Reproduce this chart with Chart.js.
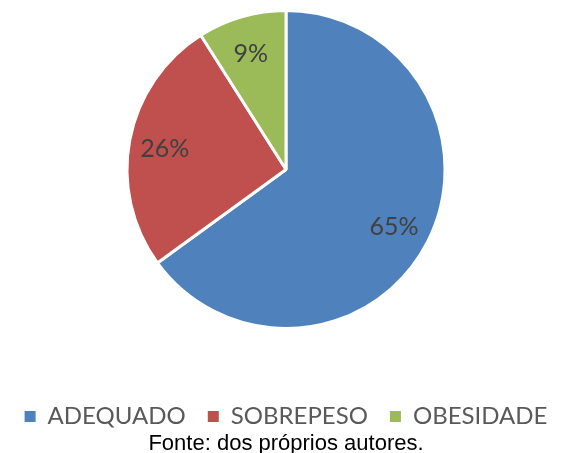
<!DOCTYPE html>
<html>
<head>
<meta charset="utf-8">
<script src="https://cdn.jsdelivr.net/npm/chart.js@4"></script>
<style>
  html, body { margin: 0; padding: 0; background: #fff; }
  #wrap { width: 575px; height: 453px; }
</style>
</head>
<body>
<div id="wrap"><canvas id="chart"></canvas></div>
<script>
// valeurs
var categories = ['ADEQUADO', 'SOBREPESO', 'OBESIDADE'];
var percents = [65, 26, 9];
var colors = ['#4F81BD', '#C0504D', '#9BBB59'];
var caption = 'Fonte: dos próprios autores.';

// étiquettes % dans les parts
var sliceLabels = {
  id: 'sliceLabels',
  afterDatasetsDraw: function(chart) {
    var ctx = chart.ctx;
    var meta = chart.getDatasetMeta(0);
    ctx.save();
    ctx.font = '25px Lato';
    ctx.fillStyle = '#404040';
    ctx.textAlign = 'center';
    ctx.textBaseline = 'middle';
    meta.data.forEach(function(arc, i) {
      var p = arc.getProps(['x', 'y', 'startAngle', 'endAngle', 'outerRadius'], true);
      var mid = (p.startAngle + p.endAngle) / 2;
      var r = p.outerRadius * 0.77;
      ctx.fillText(percents[i] + '%', p.x + Math.cos(mid) * r - 1, p.y + Math.sin(mid) * r + 2);
    });
    ctx.restore();
  }
};

var ctx = document.getElementById('chart').getContext('2d');
var myPie = new Chart(ctx, {
  type: 'pie',
  data: {
    labels: categories,
    datasets: [{
      data: percents,
      backgroundColor: colors,
      borderColor: '#ffffff',
      borderWidth: 3,
      radius: 159
    }]
  },
  options: {
    responsive: true,
    maintainAspectRatio: false,
    animation: false,
    layout: { padding: { right: 3 } },
    plugins: {
      tooltip: { enabled: false },
      legend: {
        position: 'bottom',
        maxHeight: 91.6,
        title: { display: true, text: '', font: { size: 12 }, padding: { top: 0, bottom: 29 } },
        labels: {
          boxWidth: 11,
          boxHeight: 11,
          padding: 22,
          color: '#595959',
          font: { family: 'Lato', size: 24 },
          // carrés pleins, sans le bord blanc des parts
          generateLabels: function(chart) {
            var items = Chart.overrides.pie.plugins.legend.labels.generateLabels(chart);
            items.forEach(function(it) { it.lineWidth = 0; });
            return items;
          }
        }
      },
      title: {
        display: true,
        position: 'bottom',
        text: caption,
        color: '#000000',
        font: { family: '"Liberation Sans", Arial', size: 22, weight: 'normal' },
        padding: { top: 0, bottom: -4 }
      }
    }
  },
  plugins: [sliceLabels]
});
</script>
</body>
</html>
